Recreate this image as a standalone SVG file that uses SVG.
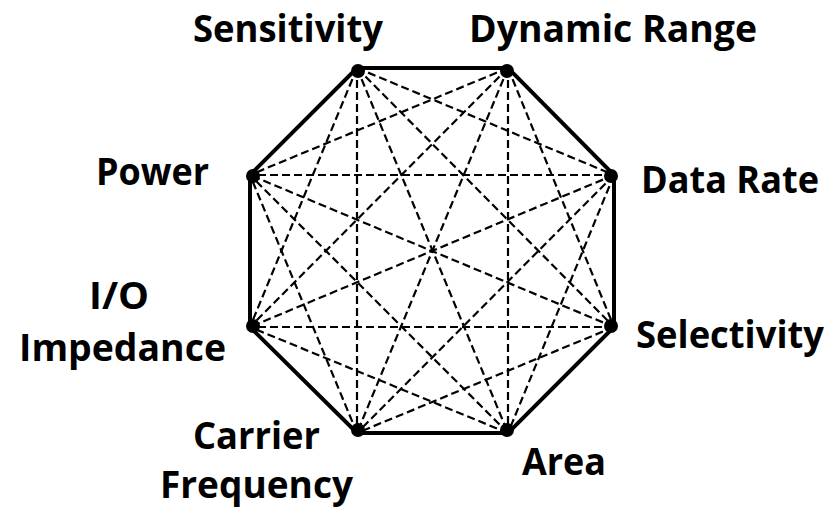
<svg xmlns="http://www.w3.org/2000/svg" width="833" height="513" viewBox="0 0 833 513">
<style>
.lbl{font-family:"Open Sans","Liberation Sans",sans-serif;font-weight:bold;font-size:38px;fill:#000}
.diag{stroke:#000;stroke-width:2.2;stroke-dasharray:8 4;fill:none}
.oct{stroke:#000;stroke-width:4;fill:none;stroke-linejoin:miter}
.dot{fill:#000}
</style>
<rect width="833" height="513" fill="#fff"/>
<g id="connectors">
<line class="diag" x1="357" y1="68" x2="614" y2="175"/>
<line class="diag" x1="357" y1="68" x2="614" y2="327"/>
<line class="diag" x1="357" y1="68" x2="508" y2="433"/>
<line class="diag" x1="357" y1="68" x2="357" y2="433"/>
<line class="diag" x1="357" y1="68" x2="250" y2="327"/>
<line class="diag" x1="508" y1="68" x2="614" y2="327"/>
<line class="diag" x1="508" y1="68" x2="508" y2="433"/>
<line class="diag" x1="508" y1="68" x2="357" y2="433"/>
<line class="diag" x1="508" y1="68" x2="250" y2="327"/>
<line class="diag" x1="508" y1="68" x2="250" y2="175"/>
<line class="diag" x1="614" y1="175" x2="508" y2="433"/>
<line class="diag" x1="614" y1="175" x2="357" y2="433"/>
<line class="diag" x1="614" y1="175" x2="250" y2="327"/>
<line class="diag" x1="614" y1="175" x2="250" y2="175"/>
<line class="diag" x1="614" y1="327" x2="357" y2="433"/>
<line class="diag" x1="614" y1="327" x2="250" y2="327"/>
<line class="diag" x1="614" y1="327" x2="250" y2="175"/>
<line class="diag" x1="508" y1="433" x2="250" y2="327"/>
<line class="diag" x1="508" y1="433" x2="250" y2="175"/>
<line class="diag" x1="357" y1="433" x2="250" y2="175"/>
<polygon class="oct" points="357,68 508,68 614,175 614,327 508,433 357,433 250,327 250,175"/>
</g>
<g id="sensitivity"><circle class="dot" cx="358" cy="71" r="7"/><text class="lbl" x="193" y="42" textLength="190" lengthAdjust="spacingAndGlyphs">Sensitivity</text></g>
<g id="dynamic-range"><circle class="dot" cx="507" cy="71" r="7"/><text class="lbl" x="469" y="42" textLength="288" lengthAdjust="spacingAndGlyphs">Dynamic Range</text></g>
<g id="data-rate"><circle class="dot" cx="611" cy="176" r="7"/><text class="lbl" x="641" y="193" textLength="178" lengthAdjust="spacingAndGlyphs">Data Rate</text></g>
<g id="selectivity"><circle class="dot" cx="611" cy="326" r="7"/><text class="lbl" x="636" y="348" textLength="188" lengthAdjust="spacingAndGlyphs">Selectivity</text></g>
<g id="area"><circle class="dot" cx="507" cy="430" r="7"/><text class="lbl" x="522" y="475" textLength="84" lengthAdjust="spacingAndGlyphs">Area</text></g>
<g id="carrier-frequency"><circle class="dot" cx="358" cy="430" r="7"/><text class="lbl" x="193" y="449" textLength="127" lengthAdjust="spacingAndGlyphs">Carrier</text><text class="lbl" x="160" y="498" textLength="193" lengthAdjust="spacingAndGlyphs">Frequency</text></g>
<g id="io-impedance"><circle class="dot" cx="253" cy="326" r="7"/><text class="lbl" x="89" y="309" textLength="60" lengthAdjust="spacingAndGlyphs">I/O</text><text class="lbl" x="19" y="361" textLength="207" lengthAdjust="spacingAndGlyphs">Impedance</text></g>
<g id="power"><circle class="dot" cx="253" cy="176" r="7"/><text class="lbl" x="96" y="185" textLength="113" lengthAdjust="spacingAndGlyphs">Power</text></g>
</svg>
